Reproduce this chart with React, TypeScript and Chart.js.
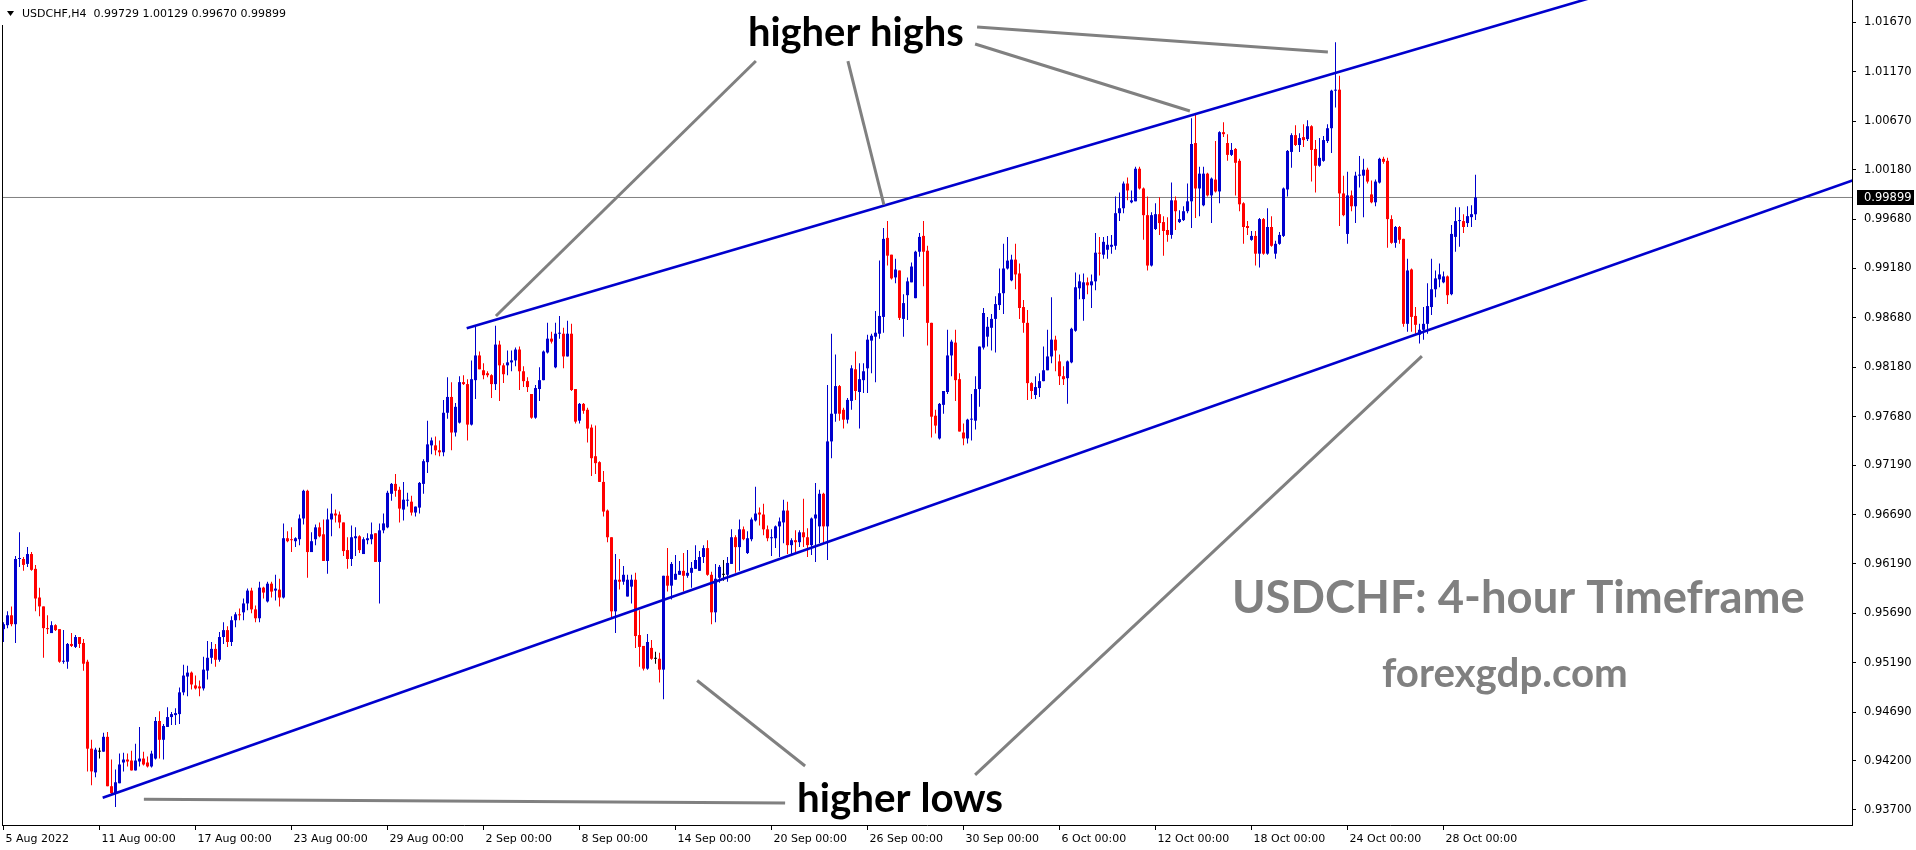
import React, { useEffect, useRef } from 'react';
import { Chart, registerables } from 'chart.js';

Chart.register(...registerables);

// ---- USDCHF H4 candles (index 0 = 5 Aug 2022 00:00, one bar per 4 hours) ----
const OPEN = [
  0.9553,0.9557,0.9567,0.9558,0.9624,0.9624,0.9619,0.9629,0.9614,0.9585,
  0.9576,0.9554,0.9549,0.9557,0.9553,0.9520,0.9520,0.9538,0.9535,0.9545,
  0.9539,0.9520,0.9432,0.9408,0.9429,0.9429,0.9444,0.9394,0.9387,0.9397,
  0.9418,0.9421,0.9420,0.9410,0.9419,0.9422,0.9418,0.9414,0.9422,0.9460,
  0.9441,0.9454,0.9464,0.9466,0.9467,0.9489,0.9505,0.9509,0.9496,0.9495,
  0.9493,0.9511,0.9524,0.9533,0.9522,0.9545,0.9552,0.9540,0.9562,0.9568,
  0.9570,0.9579,0.9592,0.9573,0.9564,0.9595,0.9581,0.9599,0.9592,0.9593,
  0.9585,0.9645,0.9644,0.9642,0.9644,0.9665,0.9693,0.9631,0.9644,0.9656,
  0.9649,0.9622,0.9664,0.9670,0.9669,0.9661,0.9633,0.9624,0.9645,0.9647,
  0.9629,0.9643,0.9644,0.9650,0.9621,0.9653,0.9656,0.9690,0.9700,0.9694,
  0.9674,0.9683,0.9682,0.9671,0.9676,0.9700,0.9722,0.9739,0.9739,0.9734,
  0.9732,0.9772,0.9788,0.9752,0.9762,0.9803,0.9801,0.9760,0.9805,0.9830,
  0.9815,0.9812,0.9810,0.9801,0.9841,0.9820,0.9820,0.9823,0.9825,0.9836,
  0.9814,0.9804,0.9791,0.9767,0.9796,0.9805,0.9833,0.9847,0.9818,0.9852,
  0.9852,0.9829,0.9852,0.9796,0.9764,0.9781,0.9775,0.9757,0.9728,0.9722,
  0.9702,0.9673,0.9646,0.9571,0.9603,0.9601,0.9586,0.9596,0.9603,0.9547,
  0.9536,0.9513,0.9534,0.9523,0.9523,0.9512,0.9607,0.9597,0.9603,0.9608,
  0.9612,0.9607,0.9610,0.9614,0.9612,0.9626,0.9635,0.9608,0.9570,0.9605,
  0.9608,0.9608,0.9619,0.9646,0.9636,0.9654,0.9630,0.9644,0.9663,0.9671,
  0.9669,0.9654,0.9645,0.9645,0.9657,0.9661,0.9673,0.9638,0.9643,0.9641,
  0.9651,0.9646,0.9638,0.9665,0.9657,0.9690,0.9657,0.9743,0.9771,0.9799,
  0.9775,0.9765,0.9784,0.9816,0.9793,0.9805,0.9817,0.9845,0.9849,0.9852,
  0.9869,0.9949,0.9932,0.9909,0.9916,0.9867,0.9891,0.9904,0.9888,0.9935,
  0.9951,0.9936,0.9863,0.9769,0.9746,0.9780,0.9793,0.9830,0.9843,0.9806,
  0.9752,0.9746,0.9765,0.9764,0.9796,0.9838,0.9849,0.9858,0.9867,0.9881,
  0.9893,0.9918,0.9906,0.9927,0.9913,0.9879,0.9863,0.9802,0.9790,0.9797,
  0.9804,0.9815,0.9829,0.9846,0.9824,0.9809,0.9807,0.9823,0.9855,0.9898,
  0.9887,0.9904,0.9901,0.9905,0.9934,0.9932,0.9937,0.9940,0.9941,0.9974,
  0.9979,1.0004,0.9985,0.9986,1.0019,0.9999,0.9972,0.9921,0.9958,0.9973,
  0.9965,0.9957,0.9952,0.9987,0.9965,0.9967,0.9976,0.9986,1.0045,0.9999,
  0.9982,1.0014,0.9992,1.0008,0.9996,1.0056,1.0045,1.0033,1.0039,1.0027,
  0.9984,0.9961,0.9947,0.9951,0.9933,0.9968,0.9933,0.9960,0.9933,0.9943,
  0.9951,0.9998,1.0036,1.0053,1.0043,1.0051,1.0049,1.0062,1.0039,1.0022,
  1.0027,1.0047,1.0060,1.0098,1.0099,0.9994,0.9953,0.9992,0.9981,1.0012,
  1.0012,1.0018,0.9993,0.9985,1.0005,1.0029,1.0027,0.9968,0.9944,0.9960,
  0.9948,0.9862,0.9917,0.9870,0.9851,0.9856,0.9862,0.9879,0.9897,0.9907,
  0.9904,0.9910,0.9892,0.9950,0.9966,0.9966,0.9964,0.9970,0.99729,
];

const HIGH = [
  0.9560,0.9571,0.9576,0.9627,0.9651,0.9626,0.9636,0.9631,0.9618,0.9595,
  0.9576,0.9567,0.9561,0.9558,0.9553,0.9552,0.9539,0.9549,0.9547,0.9545,
  0.9543,0.9522,0.9441,0.9433,0.9433,0.9448,0.9449,0.9421,0.9411,0.9427,
  0.9428,0.9427,0.9430,0.9437,0.9454,0.9429,0.9424,0.9430,0.9464,0.9470,
  0.9457,0.9474,0.9469,0.9473,0.9494,0.9517,0.9516,0.9510,0.9506,0.9501,
  0.9525,0.9541,0.9540,0.9538,0.9550,0.9560,0.9556,0.9566,0.9570,0.9574,
  0.9584,0.9594,0.9595,0.9577,0.9601,0.9596,0.9601,0.9601,0.9608,0.9604,
  0.9660,0.9652,0.9656,0.9646,0.9669,0.9694,0.9694,0.9651,0.9659,0.9661,
  0.9664,0.9675,0.9690,0.9674,0.9672,0.9661,0.9646,0.9658,0.9656,0.9648,
  0.9646,0.9650,0.9661,0.9650,0.9660,0.9670,0.9693,0.9701,0.9710,0.9697,
  0.9702,0.9691,0.9688,0.9677,0.9702,0.9725,0.9764,0.9747,0.9748,0.9744,
  0.9785,0.9808,0.9803,0.9782,0.9809,0.9810,0.9806,0.9825,0.9860,0.9834,
  0.9822,0.9814,0.9811,0.9860,0.9845,0.9822,0.9835,0.9835,0.9838,0.9839,
  0.9819,0.9808,0.9791,0.9800,0.9818,0.9835,0.9863,0.9854,0.9863,0.9870,
  0.9858,0.9865,0.9862,0.9796,0.9782,0.9782,0.9777,0.9760,0.9759,0.9723,
  0.9713,0.9674,0.9646,0.9629,0.9624,0.9617,0.9608,0.9608,0.9610,0.9572,
  0.9536,0.9548,0.9542,0.9530,0.9529,0.9607,0.9635,0.9621,0.9628,0.9622,
  0.9630,0.9633,0.9621,0.9638,0.9632,0.9638,0.9643,0.9611,0.9619,0.9618,
  0.9623,0.9626,0.9654,0.9648,0.9664,0.9657,0.9652,0.9666,0.9697,0.9676,
  0.9680,0.9658,0.9654,0.9658,0.9666,0.9684,0.9682,0.9645,0.9653,0.9653,
  0.9685,0.9655,0.9666,0.9701,0.9694,0.9691,0.9800,0.9852,0.9831,0.9800,
  0.9777,0.9787,0.9820,0.9834,0.9822,0.9822,0.9851,0.9852,0.9875,0.9926,
  0.9959,0.9966,0.9932,0.9928,0.9916,0.9892,0.9909,0.9924,0.9936,0.9954,
  0.9966,0.9941,0.9863,0.9775,0.9782,0.9794,0.9856,0.9846,0.9856,0.9812,
  0.9761,0.9766,0.9791,0.9809,0.9839,0.9878,0.9869,0.9872,0.9890,0.9918,
  0.9943,0.9950,0.9932,0.9943,0.9923,0.9886,0.9876,0.9803,0.9809,0.9812,
  0.9839,0.9856,0.9889,0.9850,0.9831,0.9819,0.9825,0.9858,0.9914,0.9912,
  0.9913,0.9909,0.9912,0.9954,0.9950,0.9950,0.9951,0.9952,0.9991,0.9995,
  1.0006,1.0010,0.9997,1.0021,1.0021,1.0000,0.9991,0.9975,0.9984,0.9990,
  0.9971,0.9970,1.0005,0.9991,0.9977,0.9981,1.0004,1.0070,1.0075,1.0021,
  1.0021,1.0015,1.0010,1.0047,1.0057,1.0066,1.0054,1.0045,1.0040,1.0029,
  0.9985,0.9966,0.9956,0.9956,0.9969,0.9969,0.9979,0.9971,0.9946,0.9955,
  1.0000,1.0038,1.0055,1.0063,1.0055,1.0064,1.0068,1.0063,1.0048,1.0050,
  1.0052,1.0064,1.0099,1.0147,1.0113,1.0012,1.0016,0.9997,1.0016,1.0032,
  1.0029,1.0020,1.0007,1.0008,1.0030,1.0031,1.0030,0.9972,0.9961,0.9961,
  0.9948,0.9928,0.9918,0.9879,0.9862,0.9879,0.9903,0.9928,0.9916,0.9923,
  0.9915,0.9911,0.9962,0.9980,0.9980,0.9973,0.9981,0.9982,1.00129,
];

const LOW = [
  0.9540,0.9554,0.9556,0.9539,0.9616,0.9612,0.9616,0.9612,0.9571,0.9566,
  0.9524,0.9548,0.9549,0.9551,0.9519,0.9518,0.9513,0.9535,0.9534,0.9534,
  0.9511,0.9409,0.9395,0.9403,0.9422,0.9429,0.9394,0.9385,0.9373,0.9397,
  0.9409,0.9414,0.9410,0.9410,0.9414,0.9415,0.9413,0.9413,0.9421,0.9422,
  0.9421,0.9454,0.9456,0.9456,0.9457,0.9486,0.9485,0.9492,0.9492,0.9485,
  0.9491,0.9502,0.9518,0.9515,0.9520,0.9538,0.9535,0.9536,0.9555,0.9562,
  0.9562,0.9572,0.9569,0.9560,0.9560,0.9584,0.9580,0.9585,0.9582,0.9576,
  0.9584,0.9641,0.9631,0.9636,0.9638,0.9659,0.9605,0.9631,0.9638,0.9646,
  0.9622,0.9609,0.9647,0.9661,0.9655,0.9627,0.9614,0.9617,0.9627,0.9630,
  0.9629,0.9639,0.9639,0.9621,0.9579,0.9650,0.9655,0.9683,0.9687,0.9661,
  0.9663,0.9677,0.9668,0.9667,0.9670,0.9690,0.9711,0.9730,0.9729,0.9728,
  0.9728,0.9766,0.9734,0.9748,0.9761,0.9800,0.9744,0.9759,0.9786,0.9816,
  0.9806,0.9808,0.9787,0.9795,0.9784,0.9802,0.9810,0.9814,0.9819,0.9795,
  0.9798,0.9793,0.9766,0.9766,0.9784,0.9805,0.9832,0.9842,0.9817,0.9847,
  0.9817,0.9829,0.9794,0.9761,0.9761,0.9771,0.9742,0.9708,0.9710,0.9702,
  0.9667,0.9641,0.9565,0.9549,0.9593,0.9598,0.9586,0.9579,0.9534,0.9515,
  0.9511,0.9512,0.9522,0.9518,0.9499,0.9482,0.9591,0.9583,0.9603,0.9608,
  0.9591,0.9605,0.9595,0.9614,0.9612,0.9620,0.9607,0.9558,0.9560,0.9600,
  0.9602,0.9601,0.9619,0.9610,0.9612,0.9643,0.9629,0.9642,0.9662,0.9658,
  0.9648,0.9642,0.9627,0.9635,0.9626,0.9640,0.9629,0.9629,0.9630,0.9636,
  0.9636,0.9626,0.9628,0.9621,0.9640,0.9640,0.9623,0.9726,0.9763,0.9764,
  0.9756,0.9761,0.9775,0.9785,0.9756,0.9792,0.9792,0.9812,0.9803,0.9847,
  0.9853,0.9921,0.9907,0.9903,0.9866,0.9849,0.9866,0.9904,0.9888,0.9930,
  0.9900,0.9840,0.9747,0.9751,0.9745,0.9771,0.9791,0.9809,0.9784,0.9753,
  0.9739,0.9741,0.9744,0.9755,0.9778,0.9836,0.9839,0.9835,0.9833,0.9876,
  0.9872,0.9917,0.9905,0.9897,0.9867,0.9853,0.9785,0.9786,0.9786,0.9788,
  0.9804,0.9815,0.9822,0.9814,0.9800,0.9800,0.9781,0.9822,0.9854,0.9887,
  0.9865,0.9892,0.9878,0.9896,0.9911,0.9928,0.9928,0.9933,0.9937,0.9966,
  0.9974,0.9987,0.9984,0.9986,0.9998,0.9947,0.9916,0.9920,0.9957,0.9952,
  0.9931,0.9945,0.9948,0.9957,0.9964,0.9966,0.9974,0.9959,0.9969,0.9971,
  0.9981,0.9991,0.9964,0.9995,0.9984,1.0051,1.0027,1.0032,0.9992,0.9976,
  0.9943,0.9952,0.9946,0.9921,0.9919,0.9932,0.9932,0.9940,0.9928,0.9942,
  0.9950,0.9991,1.0020,1.0042,1.0036,1.0041,1.0047,1.0006,0.9995,1.0021,
  1.0026,1.0045,1.0035,1.0081,0.9961,0.9971,0.9943,0.9976,0.9964,1.0000,
  0.9970,1.0004,0.9984,0.9981,1.0004,1.0024,0.9939,0.9943,0.9939,0.9943,
  0.9859,0.9854,0.9854,0.9852,0.9842,0.9846,0.9852,0.9871,0.9889,0.9899,
  0.9903,0.9882,0.9891,0.9935,0.9940,0.9954,0.9960,0.9960,0.99670,
];

const CLOSE = [
  0.9558,0.9567,0.9558,0.9624,0.9625,0.9618,0.9629,0.9613,0.9584,0.9576,
  0.9554,0.9553,0.9557,0.9552,0.9520,0.9521,0.9538,0.9536,0.9545,0.9538,
  0.9518,0.9432,0.9409,0.9431,0.9429,0.9444,0.9394,0.9387,0.9398,0.9416,
  0.9421,0.9419,0.9410,0.9420,0.9422,0.9416,0.9414,0.9427,0.9460,0.9441,
  0.9455,0.9464,0.9467,0.9468,0.9489,0.9506,0.9509,0.9497,0.9493,0.9493,
  0.9512,0.9524,0.9533,0.9522,0.9545,0.9552,0.9540,0.9562,0.9568,0.9567,
  0.9579,0.9592,0.9573,0.9564,0.9595,0.9590,0.9599,0.9591,0.9594,0.9585,
  0.9645,0.9642,0.9643,0.9645,0.9665,0.9693,0.9631,0.9642,0.9656,0.9647,
  0.9622,0.9664,0.9670,0.9668,0.9661,0.9632,0.9624,0.9646,0.9647,0.9633,
  0.9644,0.9645,0.9649,0.9621,0.9653,0.9660,0.9691,0.9700,0.9693,0.9675,
  0.9684,0.9684,0.9671,0.9677,0.9701,0.9723,0.9740,0.9744,0.9734,0.9732,
  0.9772,0.9788,0.9752,0.9778,0.9803,0.9801,0.9760,0.9806,0.9830,0.9816,
  0.9810,0.9810,0.9801,0.9841,0.9820,0.9811,0.9823,0.9825,0.9836,0.9814,
  0.9804,0.9798,0.9767,0.9797,0.9805,0.9834,0.9847,0.9844,0.9852,0.9853,
  0.9829,0.9852,0.9795,0.9763,0.9781,0.9774,0.9756,0.9726,0.9721,0.9702,
  0.9672,0.9646,0.9571,0.9603,0.9601,0.9608,0.9603,0.9603,0.9546,0.9535,
  0.9513,0.9540,0.9523,0.9523,0.9512,0.9607,0.9597,0.9619,0.9609,0.9612,
  0.9607,0.9610,0.9615,0.9623,0.9626,0.9635,0.9608,0.9570,0.9604,0.9616,
  0.9608,0.9620,0.9646,0.9636,0.9654,0.9644,0.9645,0.9664,0.9670,0.9669,
  0.9654,0.9645,0.9646,0.9657,0.9662,0.9673,0.9638,0.9643,0.9641,0.9651,
  0.9646,0.9638,0.9665,0.9669,0.9690,0.9657,0.9743,0.9771,0.9799,0.9771,
  0.9765,0.9785,0.9817,0.9794,0.9806,0.9814,0.9846,0.9850,0.9853,0.9870,
  0.9948,0.9931,0.9908,0.9917,0.9868,0.9883,0.9905,0.9920,0.9935,0.9950,
  0.9935,0.9863,0.9768,0.9759,0.9781,0.9794,0.9830,0.9844,0.9805,0.9753,
  0.9746,0.9765,0.9766,0.9796,0.9839,0.9873,0.9859,0.9867,0.9882,0.9893,
  0.9918,0.9926,0.9927,0.9912,0.9878,0.9863,0.9802,0.9794,0.9798,0.9804,
  0.9815,0.9829,0.9846,0.9835,0.9809,0.9806,0.9824,0.9857,0.9899,0.9905,
  0.9904,0.9901,0.9905,0.9934,0.9933,0.9945,0.9942,0.9942,0.9974,0.9979,
  1.0004,0.9997,0.9987,1.0019,0.9999,0.9972,0.9921,0.9972,0.9973,0.9964,
  0.9956,0.9952,0.9987,0.9976,0.9968,0.9976,0.9986,1.0044,0.9999,1.0014,
  1.0014,0.9992,1.0009,0.9996,1.0056,1.0054,1.0033,1.0038,1.0025,0.9983,
  0.9960,0.9959,0.9951,0.9933,0.9968,0.9933,0.9960,0.9941,0.9943,0.9952,
  0.9999,1.0037,1.0053,1.0043,1.0050,1.0048,1.0062,1.0038,1.0022,1.0030,
  1.0048,1.0060,1.0098,1.0099,0.9994,0.9972,0.9992,0.9981,1.0012,1.0013,
  1.0018,1.0006,0.9985,1.0006,1.0029,1.0026,0.9968,0.9944,0.9960,0.9947,
  0.9862,0.9916,0.9869,0.9861,0.9856,0.9862,0.9880,0.9897,0.9908,0.9912,
  0.9910,0.9891,0.9953,0.9966,0.9967,0.9960,0.9971,0.9973,0.99899,
];

// ---- axis ticks ----
const X_TICK_INDEX = [0, 24, 48, 72, 96, 120, 144, 168, 192, 216, 240, 264, 288, 312, 336, 360];
const X_TICK_LABELS = [
  '5 Aug 2022', '11 Aug 00:00', '17 Aug 00:00', '23 Aug 00:00', '29 Aug 00:00', '2 Sep 00:00',
  '8 Sep 00:00', '14 Sep 00:00', '20 Sep 00:00', '26 Sep 00:00', '30 Sep 00:00', '6 Oct 00:00',
  '12 Oct 00:00', '18 Oct 00:00', '24 Oct 00:00', '28 Oct 00:00',
];
const Y_TICK_VALUES = [
  1.0167, 1.0117, 1.0067, 1.0018, 0.9968, 0.9918, 0.9868, 0.9818, 0.9768,
  0.9719, 0.9669, 0.9619, 0.9569, 0.9519, 0.9469, 0.9420, 0.9370,
];

// visible ranges (bars / price)
const X_MIN = -0.375;
const X_MAX = 462.125;
const Y_MIN = 0.935475;
const Y_MAX = 1.018977;

// ---- drawn objects (anchor points in bar index / price) ----
const UPPER_CHANNEL = [{ x: 115.8, y: 0.98575 }, { x: 400, y: 1.01957 }];
const LOWER_CHANNEL = [{ x: 24.8, y: 0.93824 }, { x: 470, y: 1.00181 }];
const POINTERS = [
  [{ x: 188.1, y: 1.0128 }, { x: 123.1, y: 0.98699 }],
  [{ x: 211.1, y: 1.0128 }, { x: 220.1, y: 0.99823 }],
  [{ x: 242.9, y: 1.01452 }, { x: 296.6, y: 1.00774 }],
  [{ x: 243.4, y: 1.01624 }, { x: 331.1, y: 1.01371 }],
  [{ x: 195.4, y: 0.9377 }, { x: 35.1, y: 0.93808 }],
  [{ x: 200.4, y: 0.94145 }, { x: 173.4, y: 0.9501 }],
  [{ x: 242.9, y: 0.94054 }, { x: 354.6, y: 0.98294 }],
];
const NOTES = [
  { text: 'higher highs', x: 186.1, y: 1.01437, width: 216, color: '#000000' },
  { text: 'higher lows', x: 198.4, y: 0.93683, width: 206, color: '#000000' },
  { text: 'USDCHF: 4-hour Timeframe', x: 307.1, y: 0.95693, width: 573, color: '#808080' },
  { text: 'forexgdp.com', x: 344.6, y: 0.94944, width: 246, color: '#808080' },
];

const BULL = '#0000cd';
const BEAR = '#ff0000';
const DOJI = '#000000';
const AXIS_FONT = '"DejaVu Sans"';

const overlayPlugin = {
  id: 'overlay',
  afterDatasetsDraw(chart: any) {
    const { ctx, chartArea, scales } = chart;
    ctx.save();
    ctx.beginPath();
    ctx.rect(chartArea.left, chartArea.top, chartArea.right - chartArea.left, chartArea.bottom - chartArea.top);
    ctx.clip();
    for (const n of NOTES) {
      const px = scales.x.getPixelForValue(n.x);
      const py = scales.y.getPixelForValue(n.y);
      ctx.font = 'bold 100px Lato';
      const size = (100 * n.width) / ctx.measureText(n.text).width;
      ctx.font = `bold ${size}px Lato`;
      ctx.fillStyle = n.color;
      ctx.textAlign = 'left';
      ctx.textBaseline = 'alphabetic';
      ctx.fillText(n.text, px, py);
    }
    ctx.restore();
  },
  afterDraw(chart: any) {
    const { ctx, chartArea, scales } = chart;
    ctx.save();
    // left frame
    ctx.fillStyle = '#000';
    ctx.fillRect(chartArea.left, 25, 1, chartArea.bottom - 25);
    // title
    ctx.beginPath();
    ctx.moveTo(7, 11);
    ctx.lineTo(14, 11);
    ctx.lineTo(10.5, 16);
    ctx.closePath();
    ctx.fill();
    ctx.font = `11px ${AXIS_FONT}`;
    ctx.textAlign = 'left';
    ctx.textBaseline = 'middle';
    const last = CLOSE.length - 1;
    const title = `USDCHF,H4  ${OPEN[last].toFixed(5)} ${HIGH[last].toFixed(5)} ${LOW[last].toFixed(5)} ${CLOSE[last].toFixed(5)}`;
    ctx.fillText(title, 22, 14);
    // current price label
    const py = Math.round(scales.y.getPixelForValue(CLOSE[last]));
    ctx.fillStyle = '#000';
    ctx.fillRect(chartArea.right + 5, py - 7, 57, 15);
    ctx.fillStyle = '#fff';
    ctx.font = `11.5px ${AXIS_FONT}`;
    ctx.fillText(CLOSE[last].toFixed(5), chartArea.right + 12, py + 1);
    ctx.restore();
  },
};

export default function App() {
  const ref = useRef<HTMLCanvasElement>(null);

  useEffect(() => {
    document.body.style.margin = '0';
    const colors = CLOSE.map((c, i) => (c > OPEN[i] ? BULL : c < OPEN[i] ? BEAR : DOJI));
    const bodies = CLOSE.map((c, i) => ({ x: i, y: [OPEN[i], c] }));
    const wicks = CLOSE.map((_, i) => ({ x: i, y: [LOW[i], HIGH[i]] }));
    const lastClose = CLOSE[CLOSE.length - 1];
    const priceLine = [{ x: X_MIN - 1, y: lastClose }, { x: X_MAX + 1, y: lastClose }];

    const lineBase = { type: 'line', pointRadius: 0, fill: false, tension: 0, borderCapStyle: 'butt' };

    const chart = new Chart(ref.current as HTMLCanvasElement, {
      type: 'bar',
      data: {
        datasets: [
          { ...lineBase, data: priceLine, borderColor: '#808080', borderWidth: 1, order: 30 } as any,
          {
            type: 'bar', data: wicks as any, backgroundColor: colors, barThickness: 1,
            grouped: false, inflateAmount: 0, borderWidth: 0, order: 20,
          } as any,
          {
            type: 'bar', data: bodies as any, backgroundColor: colors, barThickness: 3,
            minBarLength: 1, grouped: false, inflateAmount: 0, borderWidth: 0, order: 19,
          } as any,
          { ...lineBase, data: UPPER_CHANNEL, borderColor: BULL, borderWidth: 2.6, order: 10 } as any,
          { ...lineBase, data: LOWER_CHANNEL, borderColor: BULL, borderWidth: 2.6, order: 10 } as any,
          ...POINTERS.map((p) => ({ ...lineBase, data: p, borderColor: '#808080', borderWidth: 3, order: 5 } as any)),
        ],
      },
      options: {
        responsive: false,
        maintainAspectRatio: false,
        animation: false,
        events: [],
        layout: { padding: { left: 2, right: 0, top: 0, bottom: 0 } },
        plugins: { legend: { display: false }, tooltip: { enabled: false }, title: { display: false } },
        scales: {
          x: {
            type: 'linear',
            min: X_MIN,
            max: X_MAX,
            offset: false,
            afterFit: (s: any) => {
              s.height = 25;
              s.paddingLeft = 0;
              s.paddingRight = 0;
              s.paddingTop = 0;
              s.paddingBottom = 0;
            },
            afterBuildTicks: (s: any) => { s.ticks = X_TICK_INDEX.map((v) => ({ value: v })); },
            ticks: {
              autoSkip: false, maxRotation: 0, minRotation: 0, align: 'start', labelOffset: 2,
              padding: 3, color: '#000', font: { family: 'DejaVu Sans', size: 11 },
              callback: (_v: any, i: number) => X_TICK_LABELS[i],
            },
            grid: { display: true, offset: false, drawOnChartArea: false, drawTicks: true, tickLength: 5, color: '#000' },
            border: { display: true, color: '#000', width: 1 },
          },
          y: {
            type: 'linear',
            position: 'right',
            min: Y_MIN,
            max: Y_MAX,
            afterFit: (s: any) => {
              s.width = 64;
              s.paddingTop = 0;
              s.paddingBottom = 0;
              s.paddingLeft = 0;
              s.paddingRight = 0;
            },
            afterBuildTicks: (s: any) => { s.ticks = Y_TICK_VALUES.map((v) => ({ value: v })); },
            ticks: {
              autoSkip: false, padding: 8, color: '#000', font: { family: 'DejaVu Sans', size: 11.5 },
              callback: (v: any) => Number(v).toFixed(5),
            },
            grid: { display: true, drawOnChartArea: false, drawTicks: true, tickLength: 4, color: '#000' },
            border: { display: true, color: '#000', width: 1 },
          },
        },
      } as any,
      plugins: [overlayPlugin],
    });
    return () => chart.destroy();
  }, []);

  return (
    <div style={{ position: 'fixed', left: 0, top: 0, width: 1916, height: 850, background: '#fff' }}>
      <canvas ref={ref} width={1916} height={850} style={{ display: 'block', width: 1916, height: 850 }} />
    </div>
  );
}
